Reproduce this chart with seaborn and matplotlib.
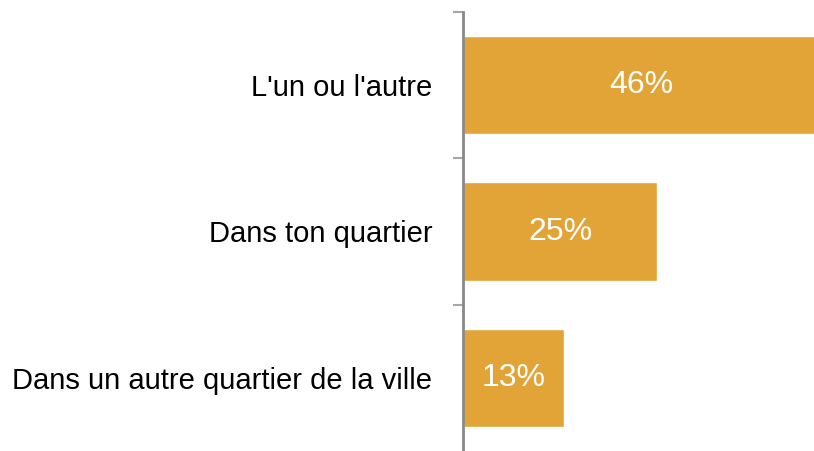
import matplotlib
matplotlib.use("Agg")
import matplotlib.pyplot as plt
import seaborn as sns
import pandas as pd

categories = ["L'un ou l'autre", "Dans ton quartier", "Dans un autre quartier de la ville"]
values = [46, 25, 13]
value_labels = ["46%", "25%", "13%"]

bar_color = "#E2A436"
axis_color = "#898989"

sns.set_theme(style="white")
plt.rcParams["font.family"] = ["Liberation Sans", "DejaVu Sans"]

df = pd.DataFrame({"category": categories, "value": values})

fig = plt.figure(figsize=(8.14, 4.51), dpi=100)
ax = fig.add_axes([463 / 814, 0, 351 / 814, 439 / 451])

sns.barplot(data=df, x="value", y="category", orient="h", color=bar_color,
            saturation=1, width=0.67, ax=ax)

ax.set_xlim(0, 45.2)
ax.set_ylim(2.5, -0.5)
ax.set_xlabel("")
ax.set_ylabel("")
ax.set_xticks([])

for s in ["top", "right", "bottom"]:
    ax.spines[s].set_visible(False)
ax.spines["left"].set_color(axis_color)
ax.spines["left"].set_linewidth(2)

ax.set_yticks(range(len(categories)))
ax.set_yticklabels(categories, fontsize=21, color="black")
ax.tick_params(axis="y", which="major", left=False, length=0, pad=22)
# boundary ticks between the categories
ax.set_yticks([-0.5, 0.5, 1.5], minor=True)
ax.tick_params(axis="y", which="minor", left=True, length=7.5, width=1.5,
               color="#A6A6A6")

for i, (v, lab) in enumerate(zip(values, value_labels)):
    ax.text(v / 2, i, lab, ha="center", va="center", color="white", fontsize=23)

fig.savefig("out.png", dpi=100)
